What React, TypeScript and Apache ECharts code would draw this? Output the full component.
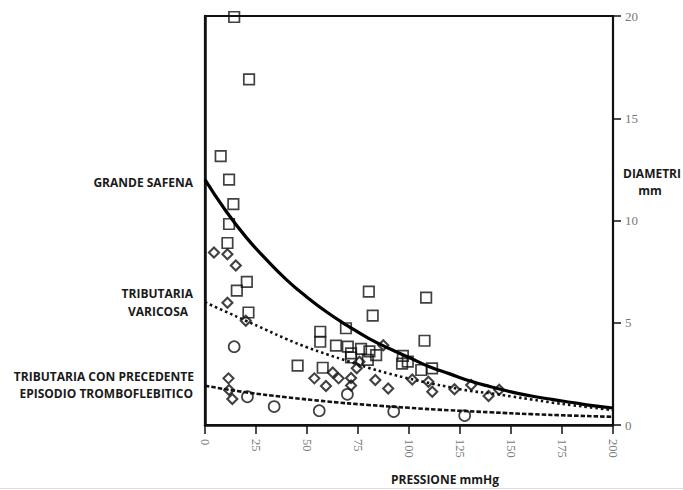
import React, { useEffect, useRef } from "react";
import * as echarts from "echarts";

const xTicks = [0, 25, 50, 75, 100, 125, 150, 175, 200];
const yTicks = [0, 5, 10, 15, 20];

const curveX = [0, 10, 20, 30, 40, 50, 60, 70, 80, 90, 100, 110, 120, 130, 140, 150, 160, 170, 180, 190, 200];
const safenaCurve = [12.0, 10.5, 9.2, 8.1, 7.1, 6.25, 5.5, 4.85, 4.25, 3.75, 3.3, 2.85, 2.5, 2.15, 1.87, 1.62, 1.42, 1.25, 1.1, 0.95, 0.83];
const varicosaCurve = [6.0, 5.55, 5.1, 4.65, 4.2, 3.8, 3.45, 3.12, 2.8, 2.52, 2.27, 2.05, 1.85, 1.67, 1.55, 1.4, 1.25, 1.1, 0.97, 0.85, 0.73];
const trombX = [0, 20, 40, 60, 80, 100, 120, 140, 160, 180, 200];
const trombCurve = [1.92, 1.6, 1.36, 1.15, 0.98, 0.84, 0.72, 0.62, 0.53, 0.46, 0.4];

const safenaPoints: [number, number][] = [
  [14.3, 19.95], [21.6, 16.9], [7.7, 13.15], [11.8, 12.0], [13.9, 10.8], [11.8, 9.83], [11, 8.9],
  [20.5, 7.0], [15.6, 6.57], [21.3, 5.5], [45.4, 2.9], [56.5, 4.56], [56.5, 4.07], [57.7, 2.8],
  [64.2, 3.88], [69.1, 4.73], [70, 3.83], [71.6, 3.5], [71.6, 3.3], [76.5, 3.72], [80.3, 6.52],
  [82.2, 5.35], [80.6, 3.6], [83.9, 3.42], [79.8, 3.18], [97, 3.38], [99.4, 3.1], [96.6, 3.0],
  [106, 2.69], [111.3, 2.77], [108.4, 6.23], [107.6, 4.12],
];
const varicosaPoints: [number, number][] = [
  [4.4, 8.43], [11, 8.35], [15.1, 7.8], [11, 5.98], [20, 5.1], [11.5, 2.28], [11.8, 1.71], [13.4, 1.27],
  [53.6, 2.28], [59.3, 1.91], [62.6, 2.57], [65.5, 2.28], [71.6, 2.3], [71.6, 1.93], [74.4, 2.77],
  [75.7, 3.09], [87.4, 3.9], [83.5, 2.2], [89.8, 1.79], [101.6, 2.22], [109.5, 2.12], [111.4, 1.63],
  [122.3, 1.75], [130.5, 1.96], [139, 1.42], [144.2, 1.72],
];
const trombPoints: [number, number][] = [
  [14.3, 3.83], [20.8, 1.38], [33.9, 0.9], [56, 0.7], [69.8, 1.5], [92.5, 0.66], [127.3, 0.46],
];

const labelFont = "bold 12px 'Open Sans', sans-serif";

export default function App() {
  const ref = useRef<HTMLDivElement>(null);
  useEffect(() => {
    if (!ref.current) return;
    const chart = echarts.init(ref.current, undefined, { renderer: "svg" });
    const hollow = { color: "rgba(0,0,0,0)", borderColor: "#111", borderWidth: 1.7 };
    const txt = (text: string, x: number, y: number, align: string) => ({
      type: "text",
      x,
      y,
      style: { text, fill: "#1a1a1a", font: labelFont, textAlign: align, textVerticalAlign: "middle" },
    });
    chart.setOption({
      animation: false,
      backgroundColor: "#ffffff",
      grid: [
        {
          left: 205,
          right: 70,
          top: 16,
          bottom: 65,
          show: true,
          borderColor: "#111",
          borderWidth: 2.2,
          backgroundColor: "rgba(0,0,0,0)",
        },
        { left: 613, right: 0, top: 16, bottom: 65, show: false },
      ],
      xAxis: [
        {
          gridIndex: 0,
          type: "value",
          min: 0,
          max: 200,
          interval: 25,
          position: "bottom",
          axisLine: { show: true, lineStyle: { color: "#111", width: 2.5 } },
          axisTick: { show: true, inside: false, length: 9, lineStyle: { color: "#111", width: 1.5 } },
          axisLabel: {
            rotate: -90,
            margin: 14,
            color: "#777",
            fontFamily: "'Liberation Serif', serif",
            fontSize: 12.5,
          },
          splitLine: { show: false },
        },
        {
          gridIndex: 1,
          type: "value",
          min: 0,
          max: 1,
          show: false,
        },
      ],
      yAxis: [
        {
          gridIndex: 0,
          type: "value",
          min: 0,
          max: 20,
          interval: 5,
          position: "right",
          axisLine: { show: true, lineStyle: { color: "#111", width: 2.5 } },
          axisTick: { show: false },
          axisLabel: { show: false },
          splitLine: { show: false },
        },
        {
          gridIndex: 1,
          type: "value",
          min: 0,
          max: 20,
          interval: 5,
          position: "left",
          axisLine: { show: false },
          axisTick: { show: true, inside: true, length: 8, lineStyle: { color: "#111", width: 1.5 } },
          axisLabel: {
            inside: true,
            margin: 12,
            color: "#777",
            fontFamily: "'Liberation Serif', serif",
            fontSize: 13,
          },
          splitLine: { show: false },
        },
      ],
      series: [
        {
          name: "GRANDE SAFENA curve",
          type: "line",
          smooth: true,
          showSymbol: false,
          data: curveX.map((x, i) => [x, safenaCurve[i]]),
          lineStyle: { color: "#000", width: 3.2 },
        },
        {
          name: "TRIBUTARIA VARICOSA curve",
          type: "line",
          smooth: true,
          showSymbol: false,
          data: curveX.map((x, i) => [x, varicosaCurve[i]]),
          lineStyle: { color: "#111", width: 2.6, type: [2.5, 3] },
        },
        {
          name: "TROMBOFLEBITICO curve",
          type: "line",
          smooth: true,
          showSymbol: false,
          data: trombX.map((x, i) => [x, trombCurve[i]]),
          lineStyle: { color: "#111", width: 2.6, type: [4.5, 2] },
        },
        {
          name: "GRANDE SAFENA",
          type: "scatter",
          symbol: "rect",
          symbolSize: 10.5,
          data: safenaPoints,
          itemStyle: hollow,
        },
        {
          name: "TRIBUTARIA VARICOSA",
          type: "scatter",
          symbol: "diamond",
          symbolSize: 10,
          data: varicosaPoints,
          itemStyle: { ...hollow, borderWidth: 2.1 },
        },
        {
          name: "TRIBUTARIA CON PRECEDENTE EPISODIO TROMBOFLEBITICO",
          type: "scatter",
          symbol: "circle",
          symbolSize: 11,
          data: trombPoints,
          itemStyle: hollow,
        },
      ],
      graphic: [
        txt("GRANDE SAFENA", 193, 182, "right"),
        txt("TRIBUTARIA", 193, 293, "right"),
        txt("VARICOSA", 158, 311, "center"),
        txt("TRIBUTARIA CON PRECEDENTE", 194, 376, "right"),
        txt("EPISODIO TROMBOFLEBITICO", 193, 393, "right"),
        txt("DIAMETRI", 623, 173, "left"),
        txt("mm", 650, 190, "center"),
        txt("PRESSIONE mmHg", 445, 479, "center"),
        {
          type: "line",
          shape: { x1: 0, y1: 488.5, x2: 683, y2: 488.5 },
          style: { stroke: "#dddddd", lineWidth: 1 },
        },
      ],
    });
    return () => chart.dispose();
  }, []);
  return (
    <div
      ref={ref}
      style={{ position: "absolute", left: 0, top: 0, width: 683, height: 490 }}
    />
  );
}
